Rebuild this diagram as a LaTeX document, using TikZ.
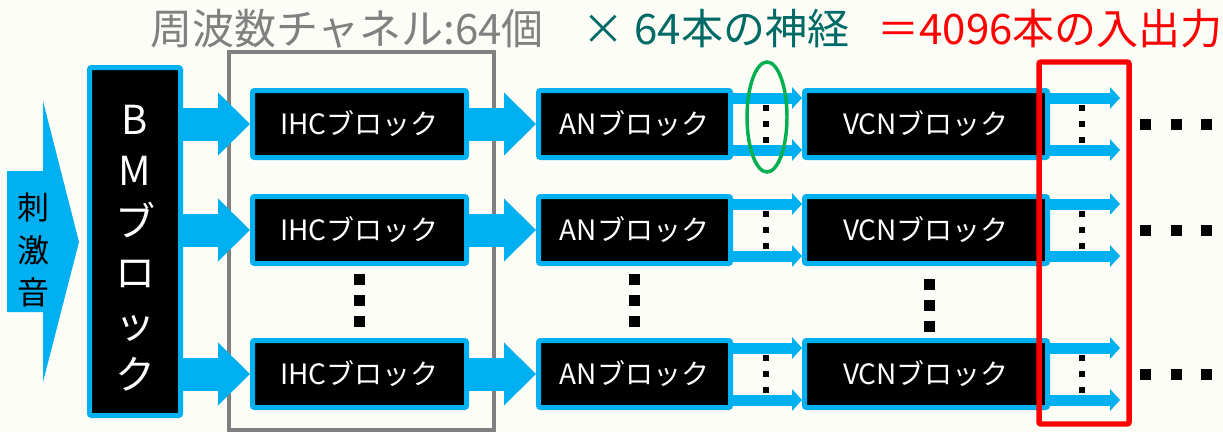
\documentclass[tikz,border=0pt]{standalone}
\usepackage{fontspec}
\setmainfont{Noto Sans CJK JP}
\usetikzlibrary{arrows.meta,calc}
\definecolor{ablue}{HTML}{00B0F0}
\definecolor{agray}{HTML}{808080}
\definecolor{ateal}{HTML}{006A66}
\definecolor{agreen}{HTML}{00B050}
\definecolor{ared}{HTML}{FF0000}
\definecolor{bgc}{HTML}{FDFDF7}
\begin{document}
\begin{tikzpicture}[x=0.75pt,y=-0.75pt,
  block/.style={draw=ablue, fill=black, line width=3.75pt, rounded corners=1.5pt,
    text=white, font=\fontsize{21}{25}\selectfont, inner sep=0pt, minimum height=50.25pt},
  ihcbox/.style={block, minimum width=160.5pt},
  anbox/.style={block, minimum width=144pt},
  vcnbox/.style={block, minimum width=182.25pt},
  fatarrow/.style={draw=ablue, line width=24.75pt,
    -{Triangle[length=24pt,width=47.25pt,line width=0pt]}},
  slimarrow/.style={draw=ablue, line width=8.25pt,
    -{Triangle[length=7.5pt,width=16.5pt,line width=0pt]}},
  titletext/.style={font=\fontsize{31.5}{36}\selectfont, inner sep=0pt},
]
\useasboundingbox (0,0) rectangle (1223,432);
\fill[bgc] (0,0) rectangle (1223,432);

% gray frame
\draw[agray, line width=3.4pt] (229,52) rectangle (494,430);

% titles
\node[titletext, text=agray] (title) at (347,29) {周波数チャネル:64個};
\node[titletext, text=ateal] (nerve) at (716,29) {× 64本の神経};
\node[titletext, text=ared] (total) at (1050,29) {＝4096本の入出力};

% stimulus arrow
\fill[ablue] (7,171) -- (43,171) -- (43,101) -- (79,242) -- (43,382) -- (43,312) -- (7,312) -- cycle;
\node[font=\fontsize{24}{32}\selectfont, align=center, inner sep=0pt] (stim) at (33,250) {刺\\激\\音};

% BM block
\node[draw=ablue, fill=black, line width=3.75pt, rounded corners=1.5pt, inner sep=0pt,
  minimum width=68.25pt, minimum height=261pt] (bm) at (135,241.5) {};
\node[font=\fontsize{30}{38.25}\selectfont, text=white, align=center, inner sep=0pt] (bmtext) at (135,248) {B\\M\\ブ\\ロ\\ッ\\ク};

% rows
\foreach \i/\y in {1/124, 2/230, 3/374} {
  \node[ihcbox] (ihc\i) at (359.5,\y) {IHCブロック};
  \node[anbox] (an\i) at (634.5,\y) {ANブロック};
  \node[vcnbox] (vcn\i) at (926,\y) {VCNブロック};
  \coordinate (outa\i) at (1120,\y-26);
  \coordinate (outb\i) at (1120,\y+26);
  \draw[fatarrow] (bm.east |- ihc\i.west) -- (ihc\i.west);
  \draw[fatarrow] (ihc\i.east) -- (an\i.west);
  \draw[slimarrow] ($(an\i.east)+(0,-26)$) -- ($(vcn\i.west)+(0,-26)$);
  \draw[slimarrow] ($(an\i.east)+(0,26)$) -- ($(vcn\i.west)+(0,26)$);
  \draw[slimarrow] (vcn\i.east |- outa\i) -- (outa\i);
  \draw[slimarrow] (vcn\i.east |- outb\i) -- (outb\i);
  \foreach \x in {766,1082} \foreach \d in {-16,0,16}
    \fill ({\x-3},{\y+\d-3}) rectangle ++(6,6);
  \foreach \x in {1145,1176.5,1206.5}
    \fill ({\x-5.5},{\y-5.5}) rectangle ++(11,11);
}

% vertical ellipsis
\foreach \x/\y in {359/279, 359/300, 359/321, 634/279, 634/300, 634/321, 929/284, 929/305, 929/326}
  \fill ({\x-5.5},{\y-5.5}) rectangle ++(11,11);

% green ellipse
\draw[agreen, line width=2.6pt] (767,117) ellipse [x radius=15pt, y radius=41.25pt];

% red frame
\draw[ared, line width=4.1pt, rounded corners=1.5pt] (1039,62) rectangle (1129,424);
\end{tikzpicture}
\end{document}
